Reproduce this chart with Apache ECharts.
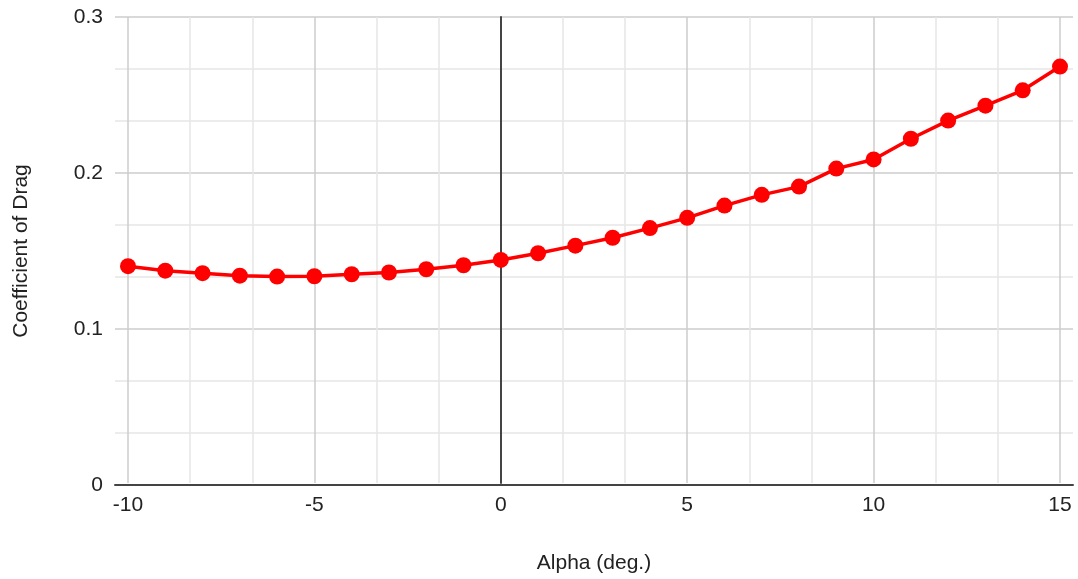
<!DOCTYPE html>
<html>
<head>
<meta charset="utf-8">
<script src="https://cdn.jsdelivr.net/npm/echarts@6/dist/echarts.min.js"></script>
<style>
html,body{margin:0;padding:0;background:#fff;}
#chart{width:1078px;height:579px;}
</style>
</head>
<body>
<div id="chart"></div>
<script>
const alpha = [-10,-9,-8,-7,-6,-5,-4,-3,-2,-1,0,1,2,3,4,5,6,7,8,9,10,11,12,13,14,15];
const cd = [0.1396,0.1367,0.1351,0.1335,0.1329,0.1331,0.1344,0.1355,0.1376,0.1402,0.1436,
            0.1479,0.1528,0.1579,0.1641,0.1707,0.1786,0.1855,0.1908,0.2024,0.2083,
            0.2216,0.2333,0.2429,0.2528,0.2681];
const xTitle = 'Alpha (deg.)';
const yTitle = 'Coefficient of Drag';

const FONT = '"Liberation Sans", Arial, sans-serif';
const chart = echarts.init(document.getElementById('chart'));
chart.setOption({
  animation: false,
  backgroundColor: '#ffffff',
  grid: [
    {left: 115, right: 5, top: 17, bottom: 94},
    {left: 128, right: 18, top: 17, bottom: 94}
  ],
  xAxis: [
    {
      gridIndex: 0, type: 'value', min: 0, max: 1, z: 5,
      axisLine: {show: true, onZero: false, lineStyle: {color: '#444444', width: 2}},
      axisTick: {show: false}, axisLabel: {show: false}, splitLine: {show: false}
    },
    {
      gridIndex: 1, type: 'value', min: -10, max: 15, interval: 5,
      name: xTitle, nameLocation: 'middle', nameGap: 70,
      nameTextStyle: {fontFamily: FONT, fontSize: 21, color: '#222222'},
      axisLine: {show: false}, axisTick: {show: false},
      axisLabel: {fontFamily: FONT, fontSize: 21, color: '#222222', margin: 12},
      splitLine: {show: true, lineStyle: {color: '#cccccc', width: 1.5}},
      minorTick: {show: false, splitNumber: 3},
      minorSplitLine: {show: true, lineStyle: {color: '#e6e6e6', width: 1.5}}
    }
  ],
  yAxis: [
    {
      gridIndex: 0, type: 'value', min: 0, max: 0.3, interval: 0.1,
      name: yTitle, nameLocation: 'middle', nameGap: 83,
      nameTextStyle: {fontFamily: FONT, fontSize: 21, color: '#222222'},
      axisLine: {show: false}, axisTick: {show: false},
      axisLabel: {fontFamily: FONT, fontSize: 21, color: '#222222', margin: 12},
      splitLine: {show: true, lineStyle: {color: '#cccccc', width: 1.5}},
      minorTick: {show: false, splitNumber: 3},
      minorSplitLine: {show: true, lineStyle: {color: '#e6e6e6', width: 1.5}}
    },
    {
      gridIndex: 1, type: 'value', min: 0, max: 0.3, z: 4,
      axisLine: {show: true, onZero: true, lineStyle: {color: '#444444', width: 2}},
      axisTick: {show: false}, axisLabel: {show: false}, splitLine: {show: false}
    }
  ],
  series: [{
    type: 'line',
    xAxisIndex: 1, yAxisIndex: 1,
    data: alpha.map((a, i) => [a, cd[i]]),
    symbol: 'circle', symbolSize: 16,
    lineStyle: {color: '#ff0000', width: 3.5},
    itemStyle: {color: '#ff0000'},
    z: 10
  }]
});
</script>
</body>
</html>
